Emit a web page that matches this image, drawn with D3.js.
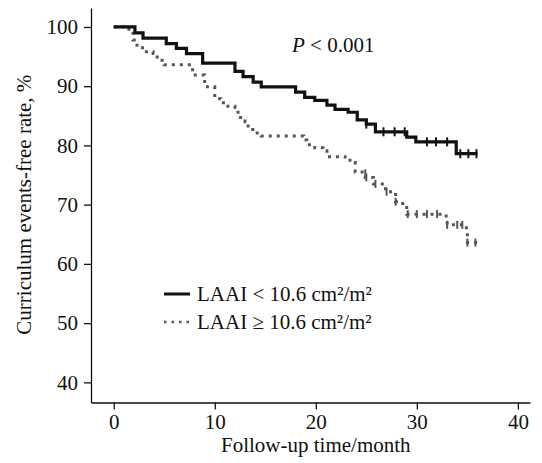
<!DOCTYPE html>
<html>
<head>
<meta charset="utf-8">
<script src="https://cdn.jsdelivr.net/npm/d3@7"></script>
<style>
body { margin: 0; background: #fff; }
svg text { font-family: "Liberation Serif", "Times New Roman", serif; fill: #111; }
.axis path, .axis line { stroke: #111; stroke-width: 1.3; }
</style>
</head>
<body>
<svg width="542" height="463"></svg>
<script>
// Kaplan-Meier steps: [month, survival %]
var lowSteps = [[0,100],[2.1,99.0],[2.9,98.1],[5.2,97.2],[6.2,96.4],[7.2,95.5],[8.8,93.9],[12.0,92.5],
    [12.8,91.6],[13.8,90.7],[14.6,89.9],[18.0,89.0],[18.9,88.1],[19.9,87.6],[21.1,86.8],[21.9,86.1],
    [23.2,85.6],[24.1,84.3],[25.0,83.6],[25.9,82.3],[29.0,81.4],[29.9,80.6],[33.9,78.6],[36.0,78.6]];
var lowCensor = [[25.0,83.6],[26.7,82.3],[27.8,82.3],[28.8,82.3],[31.0,80.6],[31.9,80.6],[33.0,80.6],
    [34.3,78.6],[35.1,78.6],[35.9,78.6]];

var highSteps = [[0,100],[1.0,99.6],[1.7,99.2],[1.9,97.8],[2.3,96.5],[3.0,95.8],[3.9,95.5],[4.3,94.4],
    [5.0,93.6],[7.8,91.9],[9.0,89.9],[10.0,87.9],[10.6,87.2],[11.3,86.6],[12.0,85.9],[12.3,84.7],
    [13.0,84.0],[13.3,82.7],[14.0,82.1],[14.6,81.6],[18.8,80.9],[19.1,80.1],[19.9,79.6],[20.7,79.1],
    [21.1,78.1],[22.9,77.5],[23.7,77.1],[23.9,75.5],[24.9,74.6],[25.7,73.5],[26.9,72.2],[27.9,70.5],
    [28.6,69.8],[29.0,68.4],[32.9,67.5],[33.0,66.6],[34.9,65.6],[35.0,63.6],[36.3,63.6]];
var highCensor = [[24.9,75.3],[25.0,74.6],[25.9,73.5],[27.0,72.2],[27.9,70.5],[29.1,68.4],[30.0,68.4],
    [31.0,68.4],[32.0,68.4],[33.0,66.6],[34.0,66.6],[34.5,66.6],[35.0,63.6],[35.8,63.6]];

var xTicks = [0, 10, 20, 30, 40];
var yTicks = [40, 50, 60, 70, 80, 90, 100];
var legendLabels = ['LAAI < 10.6 cm\u00b2/m\u00b2', 'LAAI \u2265 10.6 cm\u00b2/m\u00b2'];

var svg = d3.select('svg');
svg.append('rect').attr('width', 542).attr('height', 463).attr('fill', '#fff');

var x = d3.scaleLinear().domain([-2.25, 41.2]).range([91, 530]);
var y = d3.scaleLinear().domain([36.6, 103.2]).range([402.5, 8]);

// axes
svg.append('g').attr('class', 'x axis')
    .attr('transform', 'translate(0,402.5)')
    .call(d3.axisBottom(x).tickValues(xTicks).tickSize(7).tickSizeOuter(0).tickPadding(5))
    .selectAll('text').style('font-size', '21px');

svg.append('g').attr('class', 'y axis')
    .attr('transform', 'translate(91,0)')
    .call(d3.axisLeft(y).tickValues(yTicks).tickSize(7).tickSizeOuter(0).tickPadding(6))
    .selectAll('text').style('font-size', '21px');

svg.selectAll('.axis text').attr('fill', '#111');

// curves
var line = d3.line()
    .x(function(d){ return x(d[0]); })
    .y(function(d){ return y(d[1]); })
    .curve(d3.curveStepAfter);

svg.append('path')
    .datum(highSteps)
    .attr('d', line)
    .attr('fill', 'none')
    .attr('stroke', '#555')
    .attr('stroke-width', 3)
    .attr('stroke-dasharray', '3,5');

svg.append('path')
    .datum(lowSteps)
    .attr('d', line)
    .attr('fill', 'none')
    .attr('stroke', '#111')
    .attr('stroke-width', 3.2);

// censor marks
svg.selectAll('.cens-high')
    .data(highCensor)
    .enter()
    .append('line')
    .attr('x1', function(d){ return x(d[0]); })
    .attr('x2', function(d){ return x(d[0]); })
    .attr('y1', function(d){ return y(d[1]) - 4; })
    .attr('y2', function(d){ return y(d[1]) + 4; })
    .attr('stroke', '#555')
    .attr('stroke-width', 2);

svg.selectAll('.cens-low')
    .data(lowCensor)
    .enter()
    .append('line')
    .attr('x1', function(d){ return x(d[0]); })
    .attr('x2', function(d){ return x(d[0]); })
    .attr('y1', function(d){ return y(d[1]) - 4.5; })
    .attr('y2', function(d){ return y(d[1]) + 4.5; })
    .attr('stroke', '#111')
    .attr('stroke-width', 2);

// labels
svg.append('text')
    .attr('transform', 'translate(31,' + y(70) + ') rotate(-90)')
    .attr('text-anchor', 'middle')
    .style('font-size', '21px')
    .text('Curriculum events-free rate, %');

svg.append('text')
    .attr('x', x(20)).attr('y', 452)
    .attr('text-anchor', 'middle')
    .style('font-size', '21px')
    .text('Follow-up time/month');

var p = svg.append('text')
    .attr('x', 292).attr('y', 52)
    .style('font-size', '21px');
p.append('tspan').style('font-style', 'italic').text('P');
p.append('tspan').text(' < 0.001');

// legend
var leg = svg.selectAll('.leg')
    .data(legendLabels)
    .enter()
    .append('g')
    .attr('transform', function(d, i){ return 'translate(164,' + (294 + i * 28) + ')'; });

leg.append('line')
    .attr('x1', 0).attr('x2', 26)
    .attr('stroke', function(d, i){ return i ? '#555' : '#111'; })
    .attr('stroke-width', function(d, i){ return i ? 2.5 : 3; })
    .attr('stroke-dasharray', function(d, i){ return i ? '2.5,5' : null; });

leg.append('text')
    .attr('x', 33).attr('dy', '0.35em')
    .style('font-size', '21px')
    .text(function(d){ return d; });
</script>
</body>
</html>
